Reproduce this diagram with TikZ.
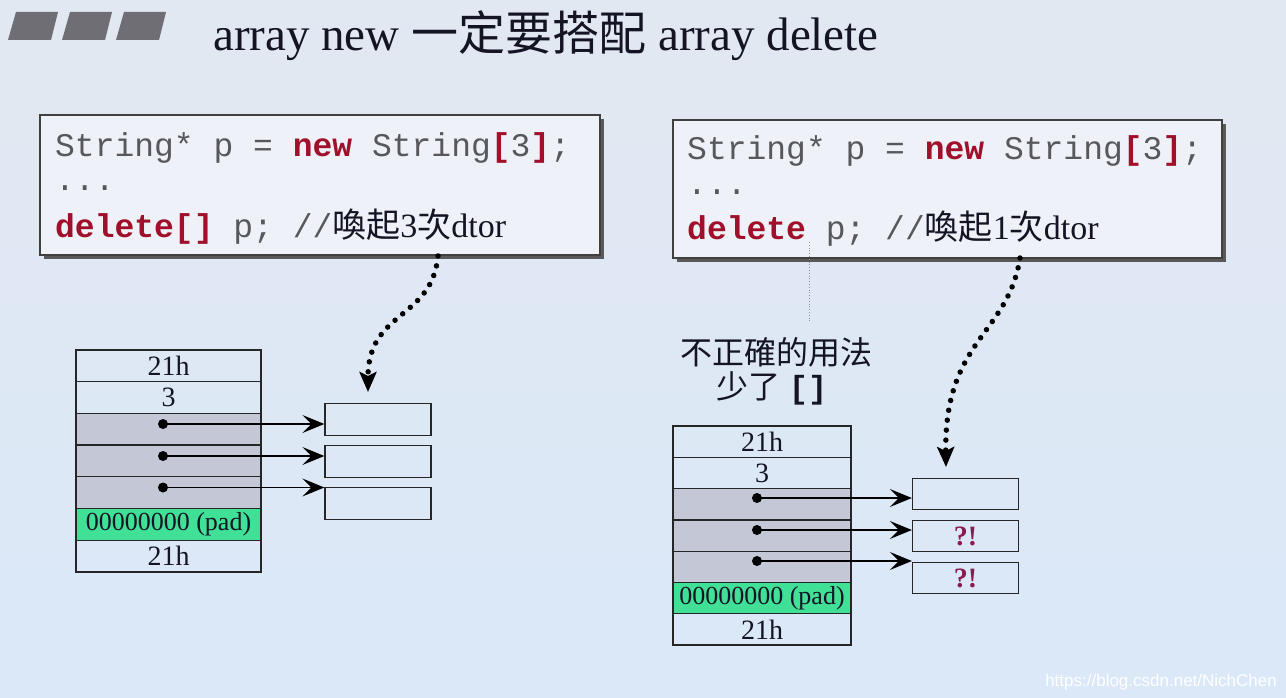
\documentclass[tikz,border=0pt]{standalone}
\usepackage{fontspec}
\setmainfont{Liberation Serif}
\setsansfont{Liberation Sans}
\setmonofont{Liberation Mono}
\newfontfamily\cjk{Noto Sans CJK TC}
\usetikzlibrary{arrows.meta,shadows,positioning}
\definecolor{bgtop}{RGB}{226,232,241}
\definecolor{bgbot}{RGB}{218,232,248}
\definecolor{kwred}{RGB}{160,16,42}
\definecolor{codegray}{RGB}{88,88,92}
\definecolor{cellgray}{RGB}{196,200,214}
\definecolor{padgreen}{RGB}{64,224,150}
\definecolor{bulletgray}{RGB}{110,110,116}
\definecolor{qmark}{RGB}{139,26,80}
\definecolor{inkdark}{RGB}{20,20,36}
\newcommand{\kw}[1]{\textbf{\color{kwred}#1}}
\newcommand{\cmt}[1]{{\rmfamily\fontsize{34}{38}\selectfont\color{inkdark}#1}}
\begin{document}
\begin{tikzpicture}[x=1pt,y=-1pt,
  codebox/.style={draw=black!75,line width=1.5pt,fill=white!40!bgtop,
    drop shadow={shadow xshift=4pt,shadow yshift=-4pt,fill=black!65,opacity=1},
    inner sep=0pt},
  codeline/.style={anchor=base west,inner sep=0pt,font=\fontsize{33}{38}\selectfont\ttfamily,text=codegray},
  cellL/.style={draw=black!85,line width=1.3pt,minimum width=185pt,minimum height=31.7pt,inner sep=0pt,
    font=\fontsize{28}{30}\selectfont,text=inkdark},
  cellR/.style={draw=black!85,line width=1.3pt,minimum width=178pt,minimum height=31.3pt,inner sep=0pt,
    font=\fontsize{28}{30}\selectfont,text=inkdark},
  ptr/.style={fill=cellgray},
  pad/.style={fill=padgreen,font=\fontsize{26}{30}\selectfont},
  target/.style={draw=black!85,line width=1.3pt,minimum width=106pt,minimum height=31.5pt,inner sep=0pt,
    font=\fontsize{28}{30}\selectfont\bfseries,text=qmark},
  dot/.style={circle,fill=black,minimum size=10pt,inner sep=0pt},
  ptrarrow/.style={line width=1.3pt,-{Stealth[length=22pt,width=18pt,inset=9pt]}},
  dotarrow/.style={line width=5.5pt,line cap=round,dash pattern=on 0pt off 10pt,
    -{Stealth[length=20pt,width=17pt,inset=4pt]}},
  bullet/.style={fill=bulletgray}
]
\useasboundingbox (0,0) rectangle (1286,698);
\shade[top color=bgtop,bottom color=bgbot] (0,0) rectangle (1286,698);

% title
\fill[bullet] (16,12) -- (58,12) -- (51,40) -- (8,40) -- cycle;
\fill[bullet] (70,12) -- (112,12) -- (105,40) -- (62,40) -- cycle;
\fill[bullet] (124,12) -- (166,12) -- (159,40) -- (116,40) -- cycle;
\node[anchor=base west,inner sep=0pt,text=inkdark,font=\fontsize{47}{50}\selectfont] (title) at (213,51)
  {array new {\cjk 一定要搭配} array delete};

% left code box
\node[codebox,minimum width=560pt,minimum height=140pt] (boxL) at (320,185) {};
\node[codeline] (L1) at (55,157) {String* p = \kw{new} String\kw{[}3\kw{]};};
\node[codeline] (L2) at (55,191) {...};
\node[codeline] (L3) at (55,237) {\kw{delete[]} p; //\cmt{{\cjk 喚起}3{\cjk 次}dtor}};

% right code box
\node[codebox,minimum width=549pt,minimum height=138pt] (boxR) at (947.5,189) {};
\node[codeline] (R1) at (687,160) {String* p = \kw{new} String\kw{[}3\kw{]};};
\node[codeline] (R2) at (687,195) {...};
\node[codeline] (R3) at (687,240) {\kw{delete} p; //\cmt{{\cjk 喚起}1{\cjk 次}dtor}};

% left memory
\node[cellL] (a1) at (168.5,365.85) {21h};
\node[cellL] (a2) at (168.5,397.55) {3};
\node[cellL,ptr] (a3) at (168.5,429.25) {};
\node[cellL,ptr] (a4) at (168.5,460.95) {};
\node[cellL,ptr] (a5) at (168.5,492.65) {};
\node[cellL,pad] (a6) at (168.5,524.35) {00000000 (pad)};
\node[cellL] (a7) at (168.5,556.05) {21h};
\node[target] (t1) at (378,419.5) {};
\node[target] (t2) at (378,461.5) {};
\node[target] (t3) at (378,503.5) {};
\node[dot] (d1) at (163,424) {};
\node[dot] (d2) at (163,456) {};
\node[dot] (d3) at (163,487.5) {};
\draw[ptrarrow] (d1.center) -- (d1.center -| t1.west);
\draw[ptrarrow] (d2.center) -- (d2.center -| t2.west);
\draw[ptrarrow] (d3.center) -- (d3.center -| t3.west);

% right memory
\node[cellR] (b1) at (762,441.65) {21h};
\node[cellR] (b2) at (762,472.95) {3};
\node[cellR,ptr] (b3) at (762,504.25) {};
\node[cellR,ptr] (b4) at (762,535.55) {};
\node[cellR,ptr] (b5) at (762,566.85) {};
\node[cellR,pad] (b6) at (762,598.15) {00000000 (pad)};
\node[cellR] (b7) at (762,629.45) {21h};
\node[target] (u1) at (965.5,494) {};
\node[target] (u2) at (965.5,536) {?!};
\node[target] (u3) at (965.5,578) {?!};
\node[dot] (e1) at (757,498) {};
\node[dot] (e2) at (757,530) {};
\node[dot] (e3) at (757,561) {};
\draw[ptrarrow] (e1.center) -- (e1.center -| u1.west);
\draw[ptrarrow] (e2.center) -- (e2.center -| u2.west);
\draw[ptrarrow] (e3.center) -- (e3.center -| u3.west);

% labels
\node[inner sep=0pt,text=inkdark,font=\fontsize{32}{34}\selectfont\cjk] (lab1) at (776,352) {不正確的用法};
\node[inner sep=0pt,text=inkdark,font=\fontsize{32}{34}\selectfont] (lab2) at (772,388)
  {{\cjk 少了}\ {\ttfamily\bfseries []}};

% dotted arrows
\coordinate (sL) at (438,256);
\coordinate (eL) at (368,392);
\draw[dotarrow] (sL) .. controls (432,320) and (368,310) .. (eL);
\coordinate (sR) at (1020,258);
\coordinate (eR) at (946,467);
\draw[dotarrow] (sR) .. controls (1008,335) and (944,340) .. (eR);

% thin gray marker line
\coordinate (m1) at (809,242);
\coordinate (m2) at (809,322);
\draw[black!45,line width=0.8pt,dotted] (m1) -- (m2);

% watermark
\node[anchor=base east,inner sep=0pt,text=white,font=\fontsize{17}{20}\selectfont\sffamily] (wm) at (1277,686)
  {https://blog.csdn.net/NichChen};
\end{tikzpicture}
\end{document}
